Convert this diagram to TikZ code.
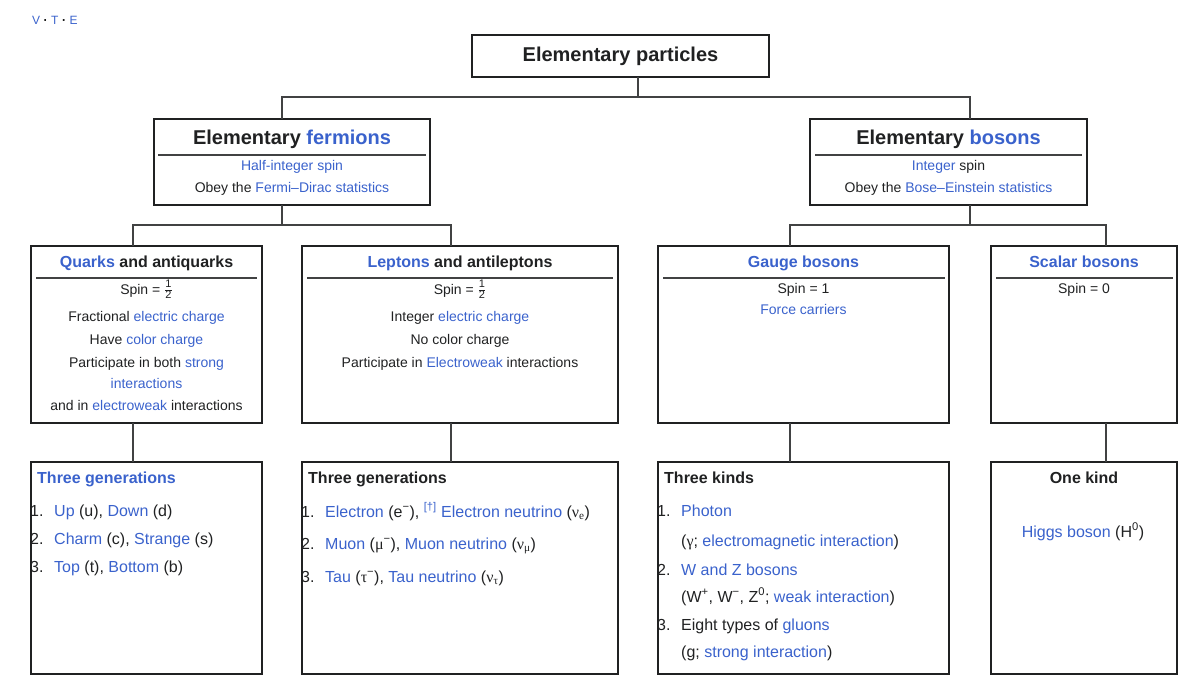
\documentclass[tikz,border=0pt]{standalone}
\usepackage{fontspec}
\setmainfont{Liberation Sans}
\newfontfamily\grk{Liberation Serif}

\definecolor{linkblue}{RGB}{58,98,204}
\definecolor{ink}{HTML}{202122}
\newcommand{\lk}[1]{\textcolor{linkblue}{#1}}
\newcommand{\gr}[1]{{\grk #1}}
\newcommand{\nr}[1]{\makebox[24pt][l]{#1.}}
\newcommand{\half}{\raisebox{1pt}{$\frac{\mbox{\fontsize{11}{11}\selectfont 1}}{\mbox{\fontsize{11}{11}\selectfont 2}}$}}

\tikzstyle{cell} = [rectangle, draw=ink, line width=2.5pt, outer sep=0pt, inner sep=0pt]
\tikzstyle{line} = [draw=ink!85, line width=1.3pt]
\tikzstyle{headline} = [draw=ink!85, line width=1.6pt]
\tikzstyle{bigtitle} = [font=\bfseries\fontsize{20}{24}\selectfont, text=ink, inner sep=0pt, text height=14.3pt, text depth=4.2pt]
\tikzstyle{head} = [font=\bfseries\fontsize{16}{19}\selectfont, text=ink, inner sep=0pt, text height=11.5pt, text depth=3.4pt]
\tikzstyle{txt} = [font=\fontsize{14}{17}\selectfont, text=ink, inner sep=0pt, text height=10pt, text depth=3pt]
\tikzstyle{entry} = [anchor=west, font=\fontsize{16}{19}\selectfont, text=ink, inner sep=0pt, text height=11.5pt, text depth=3.4pt]

\begin{document}
\begin{tikzpicture}[x=1pt,y=-1pt]
	\useasboundingbox (0,0) rectangle (1200,688);
	\node (vte) at (32,20) [anchor=west, font=\fontsize{12}{14}\selectfont, inner sep=0pt] {\lk{V}\hspace{3.5pt}\textbf{·}\hspace{3.5pt}\lk{T}\hspace{3.5pt}\textbf{·}\hspace{3.5pt}\lk{E}};

	\node (part) at (620.5,56) [cell, bigtitle, minimum width=297pt, minimum height=42pt] {Elementary particles};
	\node (ferm) at (292,162) [cell, minimum width=276pt, minimum height=86pt] {};
	\node (bos) at (948.5,162) [cell, minimum width=277pt, minimum height=86pt] {};
	\node (quark) at (146.5,334.5) [cell, minimum width=231pt, minimum height=177pt] {};
	\node (lepton) at (460,334.5) [cell, minimum width=316pt, minimum height=177pt] {};
	\node (gauge) at (803.5,334.5) [cell, minimum width=291pt, minimum height=177pt] {};
	\node (scalar) at (1084,334.5) [cell, minimum width=186pt, minimum height=177pt] {};
	\node (quarkgen) at (146.5,568) [cell, minimum width=231pt, minimum height=212pt] {};
	\node (leptongen) at (460,568) [cell, minimum width=316pt, minimum height=212pt] {};
	\node (gaugekind) at (803.5,568) [cell, minimum width=291pt, minimum height=212pt] {};
	\node (scalarkind) at (1084,568) [cell, minimum width=186pt, minimum height=212pt] {};

	\coordinate (jtop) at (638,97);
	\coordinate (jf) at (282,97);
	\coordinate (jb) at (970,97);
	\coordinate (jfl) at (282,225);
	\coordinate (jbl) at (970,225);
	\coordinate (jq) at (133,225);
	\coordinate (jl) at (451,225);
	\coordinate (jg) at (790,225);
	\coordinate (js) at (1106,225);

	\path[line] (part.south -| jtop) -- (jtop);
	\path[line] (ferm.north -| jf) -- (jf) -- (jb) -- (bos.north -| jb);
	\path[line] (ferm.south -| jfl) -- (jfl);
	\path[line] (bos.south -| jbl) -- (jbl);
	\path[line] (quark.north -| jq) -- (jq) -- (jl) -- (lepton.north -| jl);
	\path[line] (gauge.north -| jg) -- (jg) -- (js) -- (scalar.north -| js);
	\path[line] (quark.south -| jq) -- (quarkgen.north -| jq);
	\path[line] (lepton.south -| jl) -- (leptongen.north -| jl);
	\path[line] (gauge.south -| jg) -- (gaugekind.north -| jg);
	\path[line] (scalar.south -| js) -- (scalarkind.north -| js);

	\path[headline] ([shift={(4,36)}]ferm.north west) -- ([shift={(-4,36)}]ferm.north east);
	\path[headline] ([shift={(5,36)}]bos.north west) -- ([shift={(-5,36)}]bos.north east);
	\path[headline] ([shift={(5,32)}]quark.north west) -- ([shift={(-5,32)}]quark.north east);
	\path[headline] ([shift={(5,32)}]lepton.north west) -- ([shift={(-5,32)}]lepton.north east);
	\path[headline] ([shift={(5,32)}]gauge.north west) -- ([shift={(-4,32)}]gauge.north east);
	\path[headline] ([shift={(5,32)}]scalar.north west) -- ([shift={(-4,32)}]scalar.north east);

	\node (fh) at (292,139) [bigtitle] {Elementary \lk{fermions}};
	\node (f1) at (292,167) [txt] {\lk{Half-integer spin}};
	\node (f2) at (292,189) [txt] {Obey the \lk{Fermi–Dirac statistics}};
	\node (bh) at (948.5,139) [bigtitle] {Elementary \lk{bosons}};
	\node (b1) at (948.5,167) [txt] {\lk{Integer} spin};
	\node (b2) at (948.5,189) [txt] {Obey the \lk{Bose–Einstein statistics}};

	\node (qh) at (146.5,263) [head] {\lk{Quarks} and antiquarks};
	\node (q1) at (146.5,291) [txt] {Spin = \half};
	\node (q2) at (146.5,318) [txt] {Fractional \lk{electric charge}};
	\node (q3) at (146.5,341) [txt] {Have \lk{color charge}};
	\node (q4) at (146.5,364) [txt] {Participate in both \lk{strong}};
	\node (q5) at (146.5,385) [txt] {\lk{interactions}};
	\node (q6) at (146.5,407) [txt] {and in \lk{electroweak} interactions};

	\node (lh) at (460,263) [head] {\lk{Leptons} and antileptons};
	\node (l1) at (460,291) [txt] {Spin = \half};
	\node (l2) at (460,318) [txt] {Integer \lk{electric charge}};
	\node (l3) at (460,341) [txt] {No color charge};
	\node (l4) at (460,364) [txt] {Participate in \lk{Electroweak} interactions};

	\node (gh) at (803.5,263) [head] {\lk{Gauge bosons}};
	\node (g1) at (803.5,290) [txt] {Spin = 1};
	\node (g2) at (803.5,311) [txt] {\lk{Force carriers}};

	\node (sh) at (1084,263) [head] {\lk{Scalar bosons}};
	\node (s1) at (1084,290) [txt] {Spin = 0};

	\node (qgh) at (37,479) [head, anchor=west] {\lk{Three generations}};
	\node (qg1) at (30,512) [entry] {\nr{1}\lk{Up} (u), \lk{Down} (d)};
	\node (qg2) at (30,540) [entry] {\nr{2}\lk{Charm} (c), \lk{Strange} (s)};
	\node (qg3) at (30,568) [entry] {\nr{3}\lk{Top} (t), \lk{Bottom} (b)};

	\node (lgh) at (308,479) [head, anchor=west] {Three generations};
	\node (lg1) at (301,513) [entry] {\nr{1}\lk{Electron} (e\textsuperscript{−}), \lk{\textsuperscript{[†]}} \lk{Electron neutrino} (\gr{ν\textsubscript{e}})};
	\node (lg2) at (301,545) [entry] {\nr{2}\lk{Muon} (\gr{μ}\textsuperscript{−}), \lk{Muon neutrino} (\gr{ν\textsubscript{μ}})};
	\node (lg3) at (301,578) [entry] {\nr{3}\lk{Tau} (\gr{τ}\textsuperscript{−}), \lk{Tau neutrino} (\gr{ν\textsubscript{τ}})};

	\node (gkh) at (664,479) [head, anchor=west] {Three kinds};
	\node (gk1) at (657,512) [entry] {\nr{1}\lk{Photon}};
	\node (gk2) at (657,542) [entry] {\hspace*{24pt}(\gr{γ}; \lk{electromagnetic interaction})};
	\node (gk3) at (657,571) [entry] {\nr{2}\lk{W and Z bosons}};
	\node (gk4) at (657,598) [entry] {\hspace*{24pt}(W\textsuperscript{+}, W\textsuperscript{−}, Z\textsuperscript{0}; \lk{weak interaction})};
	\node (gk5) at (657,626) [entry] {\nr{3}Eight types of \lk{gluons}};
	\node (gk6) at (657,653) [entry] {\hspace*{24pt}(g; \lk{strong interaction})};

	\node (skh) at (1084,479) [head] {One kind};
	\node (sk1) at (1083,533) [entry, anchor=center] {\lk{Higgs boson} (H\textsuperscript{0})};
\end{tikzpicture}
\end{document}
